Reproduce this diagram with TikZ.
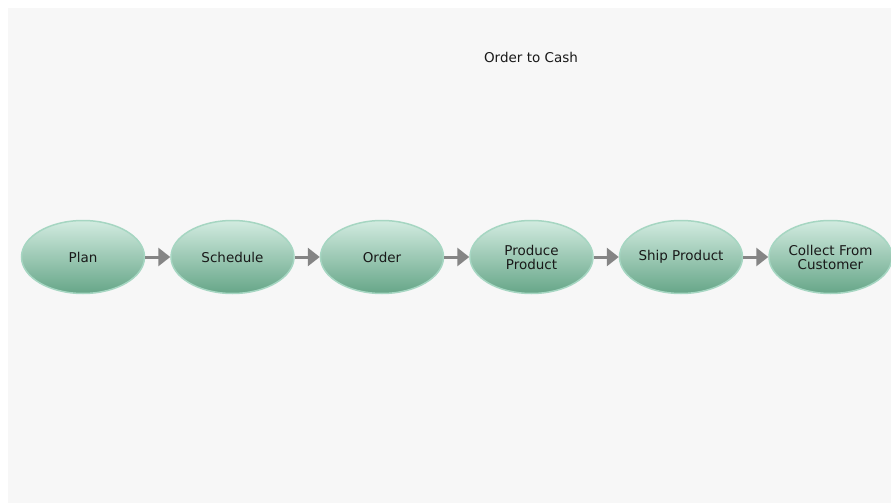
\documentclass[tikz,border=0pt]{standalone}
\usepackage{fontspec}
\setmainfont{DejaVu Sans}
\usetikzlibrary{shapes.geometric,positioning,arrows.meta}

\definecolor{panel}{HTML}{F7F7F7}
\definecolor{stepTop}{HTML}{D2EBE0}
\definecolor{stepMid}{HTML}{9CCDB7}
\definecolor{stepBottom}{HTML}{66A688}
\definecolor{stepBorder}{HTML}{A6D6C2}
\definecolor{flowGray}{HTML}{858585}

\begin{document}
\begin{tikzpicture}[
    node distance=25pt,
    every node/.style={font=\fontsize{13.5}{14}\selectfont, text=black!90, align=center},
    process/.style={ellipse, draw=stepBorder, line width=1.5pt, top color=stepTop, middle color=stepMid, bottom color=stepBottom, minimum width=123pt, minimum height=73pt, inner sep=0pt},
    flow/.style={draw=flowGray, line width=3pt, -{Triangle[length=12pt,width=18pt]}}
]

  % fond
  \useasboundingbox (0,0) rectangle (891pt,-503pt);
  \fill[white] (0,0) rectangle (891pt,-503pt);
  \fill[panel] (8pt,-8pt) rectangle (891pt,-503pt);

  \node (title) at (531pt,-57pt) {Order to Cash};

  % etapes du processus
  \node[process] (plan) at (83pt,-257pt) {Plan};
  \node[process, right=of plan] (schedule) {Schedule};
  \node[process, right=of schedule] (order) {Order};
  \node[process, right=of order] (produce) {Produce\\Product};
  \node[process, right=of produce] (ship) {Ship Product};
  \node[process, right=of ship] (collect) {Collect From\\Customer};

  % fleches
  \draw[flow] (plan) -- (schedule);
  \draw[flow] (schedule) -- (order);
  \draw[flow] (order) -- (produce);
  \draw[flow] (produce) -- (ship);
  \draw[flow] (ship) -- (collect);

\end{tikzpicture}
\end{document}
